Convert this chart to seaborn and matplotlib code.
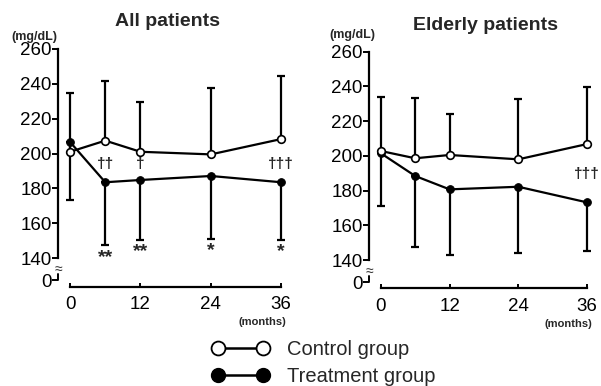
import numpy as np
import pandas as pd
import matplotlib
matplotlib.use('Agg')
import matplotlib.pyplot as plt
import seaborn as sns
from matplotlib.lines import Line2D

# ---- data ----
months = [0, 6, 12, 24, 36]

all_control = [201.0, 207.4, 201.0, 199.5, 208.3]
all_control_upper = [235.0, 241.8, 229.7, 237.4, 244.5]
all_treat = [206.6, 183.5, 184.8, 187.1, 183.5]
all_treat_lower = [173.3, 147.5, 150.2, 151.0, 150.4]

eld_control = [202.8, 198.6, 200.5, 198.0, 206.8]
eld_control_upper = [233.7, 233.3, 224.1, 232.8, 239.8]
eld_treat = [201.5, 188.4, 180.7, 182.2, 173.2]
eld_treat_lower = [171.1, 147.3, 143.0, 143.9, 145.2]

# significance marks: (month, label, y)
all_daggers = [(6, '\u2020\u2020', 194.0), (12, '\u2020', 194.0), (36, '\u2020\u2020\u2020', 194.0)]
all_stars = [(6, '**', 140.5), (12, '**', 143.5), (24, '*', 144.5), (36, '*', 143.5)]
eld_daggers = [(36, '\u2020\u2020\u2020', 189.5)]
eld_stars = []

yticks = [140, 160, 180, 200, 220, 240, 260]
xticks = [0, 12, 24, 36]
ZERO_POS = 127.2

sns.set_theme(style='ticks')
plt.rcParams['font.family'] = ['Liberation Sans', 'DejaVu Sans']

fig = plt.figure(figsize=(6.01, 3.86), dpi=100)
ax1 = fig.add_axes([0.0965, 0.2575, 0.389, 0.6246])
ax2 = fig.add_axes([0.614, 0.2526, 0.380, 0.6225])


def draw_panel(ax, control, control_upper, treat, treat_lower, daggers, stars):
    df = pd.DataFrame({
        'month': months * 2,
        'value': treat + control,
        'group': ['Treatment'] * len(months) + ['Control'] * len(months),
    })
    c = np.array(control)
    t = np.array(treat)
    # one-sided SD bars
    ax.errorbar(months, treat, yerr=[t - np.array(treat_lower), np.zeros_like(t)],
                fmt='none', ecolor='black', elinewidth=1.6, capsize=3, capthick=1.6, zorder=2)
    ax.errorbar(months, control, yerr=[np.zeros_like(c), np.array(control_upper) - c],
                fmt='none', ecolor='black', elinewidth=1.6, capsize=3, capthick=1.6, zorder=2)
    sns.lineplot(data=df[df['group'] == 'Treatment'], x='month', y='value', ax=ax,
                 color='black', linewidth=1.6, marker='o', markersize=5.5,
                 markerfacecolor='black', markeredgecolor='black', zorder=3)
    sns.lineplot(data=df[df['group'] == 'Control'], x='month', y='value', ax=ax,
                 color='black', linewidth=1.6, marker='o', markersize=5.5,
                 markerfacecolor='white', markeredgecolor='black', markeredgewidth=1.2, zorder=4)

    for m, lab, y in daggers:
        ax.text(m, y, lab, ha='center', va='center', fontsize=11, fontweight='bold')
    for m, lab, y in stars:
        ax.text(m, y, lab, ha='center', va='center', fontsize=14, fontweight='bold')

    ax.set_xlim(-2.06, 37.8)
    ax.set_ylim(123.6, 262)
    ax.set_xlabel('')
    ax.set_ylabel('')
    ax.spines['top'].set_visible(False)
    ax.spines['right'].set_visible(False)
    ax.spines['left'].set_bounds(140, 260)
    ax.spines['bottom'].set_bounds(0, 36)
    for s in ['left', 'bottom']:
        ax.spines[s].set_linewidth(1.6)
        ax.spines[s].set_color('black')
    ax.set_yticks([ZERO_POS] + yticks)
    ax.set_yticklabels(['0'] + [str(v) for v in yticks], fontsize=13.5)
    ax.set_xticks(xticks)
    ax.set_xticklabels([str(v) for v in xticks], fontsize=13.5)
    ax.tick_params(axis='y', direction='out', length=4, width=1.4, pad=0.5, colors='black')
    ax.tick_params(axis='x', direction='in', length=3, width=1.4, pad=7, colors='black')
    # short stub of axis at the "0" tick and the break mark
    ax.plot([0, 0], [ZERO_POS, ZERO_POS + 3.5], transform=ax.get_yaxis_transform(),
            color='black', lw=1.4, clip_on=False)
    ax.text(0, 133.5, '\u2248', transform=ax.get_yaxis_transform(), ha='center', va='center',
            fontsize=10)
    ax.text(36.9, 103.3, '(months)', ha='right', va='center', fontsize=8, fontweight='bold')


draw_panel(ax1, all_control, all_control_upper, all_treat, all_treat_lower, all_daggers, all_stars)
draw_panel(ax2, eld_control, eld_control_upper, eld_treat, eld_treat_lower, eld_daggers, eld_stars)

fig.text(168 / 601, 1 - 22 / 386, 'All patients', ha='center', va='center',
         fontsize=14, fontweight='bold')
fig.text(486 / 601, 1 - 25 / 386, 'Elderly patients', ha='center', va='center',
         fontsize=14, fontweight='bold')
fig.text(34 / 601, 1 - 37 / 386, '(mg/dL)', ha='center', va='center', fontsize=9, fontweight='bold')
fig.text(352 / 601, 1 - 35 / 386, '(mg/dL)', ha='center', va='center', fontsize=9, fontweight='bold')

handles = [
    Line2D([], [], color='black', lw=1.8, marker='o', markersize=10,
           markerfacecolor='white', markeredgecolor='black', markeredgewidth=1.3),
    Line2D([], [], color='black', lw=1.8, marker='o', markersize=10,
           markerfacecolor='black', markeredgecolor='black'),
]
fig.legend(handles, ['Control group', 'Treatment group'], loc='upper left',
           bbox_to_anchor=(212 / 601, 1 - 340 / 386), frameon=False, fontsize=14.5,
           numpoints=2, handlelength=2.83, handletextpad=0.9, borderpad=0,
           borderaxespad=0, labelspacing=0.4)

fig.savefig('out.png', dpi=100)
